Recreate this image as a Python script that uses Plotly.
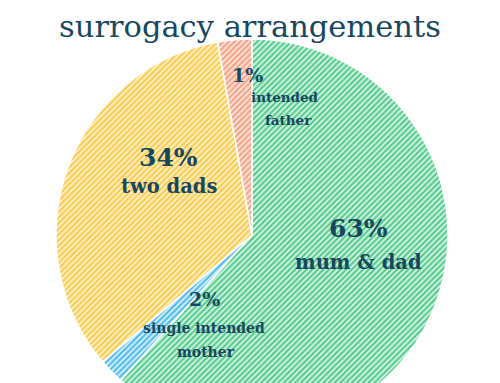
import plotly.graph_objects as go

# ---- data ----
categories = ["mum & dad", "single intended mother", "two dads", "intended father"]
values = [61.7, 2.1, 33.4, 2.8]          # slice sizes
pct_labels = ["63%", "2%", "34%", "1%"]  # printed labels
line_colors = ["#4fc98a", "#4ab8ee", "#fcc94a", "#f4a083"]
bg_colors = ["#d4f3e2", "#d6f0fc", "#fff1c8", "#fde3d9"]
title_text = "surrogacy arrangements"

W, H = 500, 440
OFF = 8  # page body margin
TXT = "#17475f"
FONT = "DejaVu Serif"

def px(x, y):
    return (x - OFF) / W, 1 - (y - OFF) / H

cx, cy, r = 252, 235, 196

fig = go.Figure(go.Pie(
    labels=categories,
    values=values,
    sort=False,
    direction="clockwise",
    rotation=0,
    textinfo="none",
    hoverinfo="label+percent",
    marker=dict(
        colors=bg_colors,
        line=dict(color="white", width=1.5),
        pattern=dict(shape="/", fgcolor=line_colors, bgcolor=bg_colors,
                     size=4, solidity=0.5, fillmode="replace"),
    ),
    domain=dict(x=[(cx - OFF - r) / W, (cx - OFF + r) / W],
                y=[1 - (cy - OFF + r) / H, 1 - (cy - OFF - r) / H]),
    showlegend=False,
))

labels_txt = [
    (pct_labels[0], 358, 228, 25),
    (categories[0], 358, 262, 19.5),
    (pct_labels[2], 168, 158, 25),
    (categories[2], 169, 187, 19.5),
    (pct_labels[1], 204, 299, 19),
    ("single intended", 204, 328, 14),
    ("mother", 206, 352, 14),
    (pct_labels[3], 247, 75, 19),
    ("intended", 285, 97, 13.5),
    ("father", 288, 120, 13.5),
]
ann = []
for t, x, y, s in labels_txt:
    xp, yp = px(x, y)
    ann.append(dict(text="<b>%s</b>" % t.replace("&", "&amp;"), x=xp, y=yp, xref="paper", yref="paper",
                    xanchor="center", yanchor="middle", showarrow=False,
                    font=dict(family=FONT, size=s, color=TXT)))

tx, ty = px(250, 26)
fig.update_layout(
    width=W, height=H,
    margin=dict(l=0, r=0, t=0, b=0),
    paper_bgcolor="white", plot_bgcolor="white",
    title=dict(text=title_text, x=tx, y=ty, xref="paper", yref="container",
               xanchor="center", yanchor="middle",
               font=dict(family=FONT, size=30.5, color=TXT)),
    annotations=ann,
)
fig.write_html("out.html")
